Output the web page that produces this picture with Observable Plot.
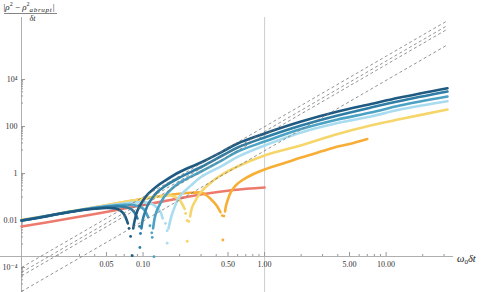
<!DOCTYPE html>
<html><head><meta charset="utf-8">
<script src="https://cdn.jsdelivr.net/npm/d3@7"></script>
<script src="https://cdn.jsdelivr.net/npm/@observablehq/plot@0.6"></script>
<style>body{margin:0;background:#fff}</style>
</head><body><div id="chart"></div>
<script>
// ---- data (x = ω0 δt, y = |ρ² − ρ²abrupt| / δt) ----
const red = [[0.01,0.00555],[0.0209,0.0105],[0.0447,0.0209],[0.0953,0.0435],[0.168,0.0745],[0.297,0.128],[0.556,0.199],[1,0.254]];

const navyPre = [[0.01,0.0100],[0.015,0.0141],[0.02,0.0189],[0.03,0.0267],[0.04,0.0315],[0.05,0.0340],[0.06,0.0324],[0.065,0.0267],[0.07,0.0180],[0.075,0.0075]];
const navyDots = [[0.0767,0.0046],[0.0790,0.0021],[0.0815,0.00032]];
const navyPost = [[0.083,0.0046],[0.085,0.0091],[0.09,0.0267],[0.1,0.071],[0.11,0.135],[0.13,0.29],[0.15,0.48],[0.2,1.16],[0.3,2.94],[0.45,8.6],[0.6,18.9],[1,50.4],[2,163],[4,435],[7.5,906],[13,1710],[32,4270]];

const blue2Pre = [[0.01,0.0100],[0.015,0.0144],[0.02,0.0191],[0.03,0.0272],[0.04,0.0331],[0.05,0.0372],[0.06,0.0394],[0.07,0.0383],[0.08,0.0308],[0.085,0.0219],[0.09,0.0122]];
const blue2Dots = [[0.0936,0.0056],[0.0953,0.0028],[0.0942,0.00071]];
const blue2Post = [[0.097,0.0046],[0.1,0.0122],[0.105,0.0267],[0.11,0.048],[0.12,0.095],[0.13,0.155],[0.15,0.28],[0.2,0.676],[0.3,1.89],[0.45,5.84],[0.6,12.8],[1,34],[2,110],[4,294],[7.5,644],[13,1220],[32,3080]];

const blue3Pre = [[0.01,0.0100],[0.015,0.0145],[0.02,0.0191],[0.03,0.0274],[0.04,0.0344],[0.05,0.0402],[0.06,0.0444],[0.07,0.0466],[0.08,0.0466],[0.09,0.0414],[0.1,0.0324],[0.105,0.0230],[0.11,0.0141]];
const blue3Dots = [[0.114,0.0060],[0.118,0.0030],[0.119,0.0019],[0.123,0.00029]];
const blue3Post = [[0.121,0.0046],[0.125,0.0134],[0.13,0.0267],[0.14,0.058],[0.15,0.105],[0.17,0.209],[0.2,0.41],[0.3,1.22],[0.45,3.75],[0.6,8.63],[1,23.0],[2,78.3],[4,199],[7.5,394],[13,783],[32,1890]];

const lightPre = [[0.01,0.0100],[0.015,0.0147],[0.02,0.0193],[0.03,0.0277],[0.04,0.0354],[0.05,0.0422],[0.06,0.048],[0.07,0.0529],[0.08,0.0566],[0.09,0.0594],[0.1,0.0594],[0.11,0.0566],[0.12,0.0489],[0.13,0.0357],[0.14,0.0219],[0.145,0.0122]];
const lightDots = [[0.153,0.0075],[0.158,0.0037],[0.158,0.00108]];
const lightPost = [[0.162,0.0046],[0.17,0.0134],[0.18,0.032],[0.2,0.105],[0.25,0.32],[0.3,0.71],[0.45,2.19],[0.6,5.1],[1,15.5],[2,55.6],[4,140],[7.5,267],[13,529],[32,1190]];

const yellowPre = [[0.01,0.0105],[0.015,0.0148],[0.02,0.0193],[0.03,0.028],[0.04,0.0365],[0.05,0.0448],[0.06,0.0529],[0.07,0.0612],[0.08,0.0689],[0.1,0.0838],[0.12,0.097],[0.14,0.109],[0.16,0.119],[0.18,0.105],[0.2,0.074],[0.21,0.0505],[0.22,0.031]];
const yellowDots = [[0.224,0.0199],[0.231,0.0100],[0.238,0.0091],[0.231,0.00131]];
const yellowPost = [[0.244,0.0148],[0.253,0.0357],[0.27,0.071],[0.297,0.155],[0.346,0.34],[0.434,0.822],[0.6,1.99],[1,5.84],[1.98,15.5],[4,48],[7.45,110],[13.2,208],[32,529]];

const orangePre = [[0.01,0.0105],[0.015,0.0148],[0.02,0.0193],[0.03,0.028],[0.04,0.0365],[0.05,0.0448],[0.06,0.0529],[0.07,0.0612],[0.08,0.0689],[0.1,0.0838],[0.12,0.097],[0.14,0.109],[0.17,0.124],[0.2,0.137],[0.25,0.151],[0.3,0.155],[0.33,0.122],[0.359,0.0845],[0.38,0.062],[0.403,0.0435],[0.434,0.0225]];
const orangeDots = [[0.449,0.0163],[0.463,0.0155],[0.454,0.00148]];
const orangePost = [[0.473,0.0242],[0.482,0.0435],[0.496,0.071],[0.525,0.155],[0.577,0.308],[0.659,0.529],[0.812,0.953],[1,1.48],[1.5,2.94],[2,4.8],[3,9.06],[4,14.1],[5,18],[7,29.4]];

// dashed t^3 guide lines: value at the left end (x=0.01) and at the right end (x=32)
const guideLeft = [1.0e-4, 6.2e-5, 4.4e-5, 9.5e-6];
const guideRight = [3.2e6, 2.0e6, 1.4e6, 3.0e5];

// ticks
const xMajor = [0.05, 0.1, 0.5, 1, 5, 10];
const xLabels = ["0.05", "0.10", "0.50", "1.00", "5.00", "10.00"];
const xMinor = [0.02,0.03,0.04,0.06,0.07,0.08,0.09,0.2,0.3,0.4,0.6,0.7,0.8,0.9,2,3,4,6,7,8,9,20,30];
const yMajor = [1e4, 100, 1, 0.01, 1e-4];
const yLabels = ["10⁴", "100", "1", "0.01", "10⁻⁴"];
const yMinorBase = [1000, 10, 0.1, 0.001, 0.00001];
const yMinor = yMinorBase.flatMap(b => [1,2,3,4,5,6,7,8,9].map(k => k * b));

const colors = {red:"#ec7b6e", navy:"#1e5a82", blue2:"#2e7ea6", blue3:"#4ca2c4", light:"#a8dcee", yellow:"#f6d66b", orange:"#f8ad35"};

const series = [
  {c: colors.orange, pre: orangePre, dots: orangeDots, post: orangePost},
  {c: colors.yellow, pre: yellowPre, dots: yellowDots, post: yellowPost},
  {c: colors.light, pre: lightPre, dots: lightDots, post: lightPost},
  {c: colors.blue3, pre: blue3Pre, dots: blue3Dots, post: blue3Post},
  {c: colors.blue2, pre: blue2Pre, dots: blue2Dots, post: blue2Post},
  {c: colors.navy, pre: navyPre, dots: navyDots, post: navyPost}
];

// ---- layout ----
const W = 485, H = 292;
const xDomain = [0.01, 32];
const yDomain = [2.94e-4, 4.37e6];
const yBottomEdge = 8.6e-6;   // bottom edge of picture
const xAxisStart = 0.0067, xAxisEnd = 35.9;
const serif = '"Liberation Serif", "DejaVu Serif", serif';

const lx = d => d[0], ly = d => d[1];
const lineOpts = c => ({x: lx, y: ly, stroke: c, strokeWidth: 2.6, curve: "catmull-rom", strokeLinecap: "round"});

const marks = [
  Plot.ruleX([1], {y1: yBottomEdge, y2: yDomain[1], stroke: "#c8c8c8", strokeWidth: 0.9}),
  Plot.ruleX([xDomain[0]], {y1: yBottomEdge, y2: yDomain[1], stroke: "#a6a6a6", strokeWidth: 0.9}),
  Plot.ruleY([yDomain[0]], {x1: xAxisStart, x2: xAxisEnd, stroke: "#a6a6a6", strokeWidth: 0.9}),
  Plot.axisX(xMinor, {anchor: "bottom", tickSize: -2, stroke: "#999", tickFormat: () => ""}),
  Plot.axisX(xMajor, {anchor: "bottom", tickSize: -4, stroke: "#999", tickFormat: () => ""}),
  Plot.text(xMajor, {x: d => d, y: () => yDomain[0], text: (d, i) => xLabels[i], dy: 7.5, fill: "#333", fontSize: 8}),
  Plot.axisY(yMinor, {anchor: "left", tickSize: -2, stroke: "#999", tickFormat: () => ""}),
  Plot.axisY(yMajor, {anchor: "left", tickSize: -4, stroke: "#999", tickFormat: () => ""}),
  Plot.text(yMajor, {x: () => xDomain[0], y: d => d, text: (d, i) => yLabels[i], dx: -4, textAnchor: "end", fill: "#333", fontSize: 8}),
  Plot.line(red, lineOpts(colors.red))
];
for (const s of series) {
  marks.push(Plot.line(s.pre, lineOpts(s.c)));
  marks.push(Plot.line(s.post, lineOpts(s.c)));
}
for (const s of series) {
  marks.push(Plot.dot(s.dots, {x: lx, y: ly, r: 1.4, fill: s.c, stroke: "none"}));
}
marks.push(Plot.link([0,1,2,3], {
  x1: () => xDomain[0], x2: () => xDomain[1],
  y1: i => guideLeft[i], y2: i => guideRight[i],
  stroke: "#777", strokeWidth: 0.8, strokeDasharray: "3,2.6"
}));

const svg = Plot.plot({
  width: W, height: H,
  marginLeft: 21, marginRight: 38, marginTop: 17, marginBottom: 36,
  x: {type: "log", domain: xDomain, label: null},
  y: {type: "log", domain: yDomain, label: null},
  style: {fontFamily: serif, fontSize: "8px", background: "#fff", color: "#333"},
  marks
});
document.getElementById("chart").append(svg);

// ---- axis titles ----
const s = d3.select(svg);
const g = s.append("g").attr("font-family", serif).attr("fill", "#222").attr("text-anchor", "start");
const num = g.append("text").attr("x", 3.5).attr("y", 10).attr("font-size", 9).attr("text-anchor", "start");
num.append("tspan").text("|");
num.append("tspan").attr("font-style", "italic").text("ρ");
num.append("tspan").attr("font-size", 6).attr("dy", -3.7).text("2");
num.append("tspan").attr("dy", 3.7).text(" − ");
num.append("tspan").attr("font-style", "italic").text("ρ");
num.append("tspan").attr("font-size", 6).attr("dy", -3.7).text("2");
num.append("tspan").attr("font-size", 7).attr("font-style", "italic").attr("dy", 5.3)
   .attr("letter-spacing", 0.7).text("abrupt");
num.append("tspan").attr("dy", -1.6).attr("dx", 0.3).text("|");
g.append("line").attr("x1", 4).attr("x2", 57).attr("y1", 13.5).attr("y2", 13.5)
  .attr("stroke", "#333").attr("stroke-width", 0.6);
g.append("text").attr("x", 32.5).attr("y", 20.5).attr("text-anchor", "middle")
  .attr("font-style", "italic").attr("font-size", 8).text("δt");

const xt = g.append("text").attr("x", 457).attr("y", 262).attr("text-anchor", "start")
  .attr("font-style", "italic").attr("font-size", 10.5);
xt.append("tspan").text("ω");
xt.append("tspan").attr("font-size", 7).attr("font-style", "normal").attr("dy", 2).text("0");
xt.append("tspan").attr("dy", -2).text("δt");
</script>
</body></html>
